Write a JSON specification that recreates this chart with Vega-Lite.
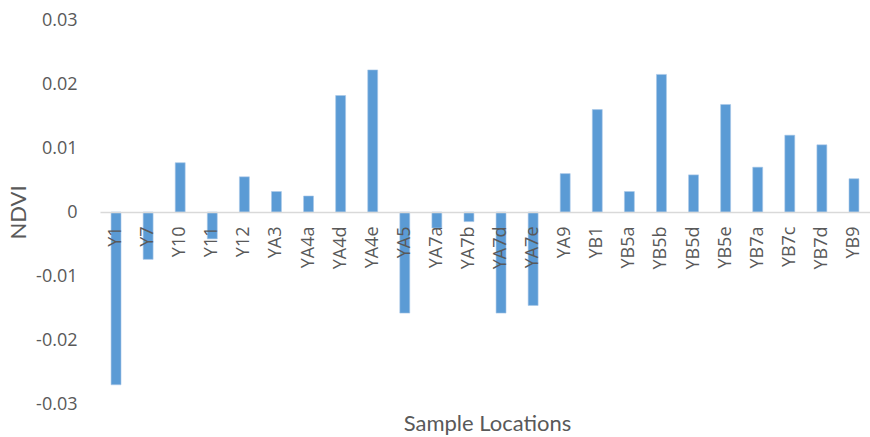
{
  "$schema": "https://vega.github.io/schema/vega-lite/v6.json",
  "width": 770,
  "height": 384,
  "autosize": "none",
  "padding": {"left": 100, "top": 20, "right": 0, "bottom": 33},
  "background": "white",
  "config": {"view": {"stroke": null}},
  "data": {"values": [
    {"loc": "Y1", "ndvi": -0.0270},
    {"loc": "Y7", "ndvi": -0.0074},
    {"loc": "Y10", "ndvi": 0.0077},
    {"loc": "Y11", "ndvi": -0.0042},
    {"loc": "Y12", "ndvi": 0.0055},
    {"loc": "YA3", "ndvi": 0.0032},
    {"loc": "YA4a", "ndvi": 0.0025},
    {"loc": "YA4d", "ndvi": 0.0182},
    {"loc": "YA4e", "ndvi": 0.0222},
    {"loc": "YA5", "ndvi": -0.0158},
    {"loc": "YA7a", "ndvi": -0.0025},
    {"loc": "YA7b", "ndvi": -0.0015},
    {"loc": "YA7d", "ndvi": -0.0158},
    {"loc": "YA7e", "ndvi": -0.0146},
    {"loc": "YA9", "ndvi": 0.0060},
    {"loc": "YB1", "ndvi": 0.0160},
    {"loc": "YB5a", "ndvi": 0.0032},
    {"loc": "YB5b", "ndvi": 0.0215},
    {"loc": "YB5d", "ndvi": 0.0058},
    {"loc": "YB5e", "ndvi": 0.0168},
    {"loc": "YB7a", "ndvi": 0.0070},
    {"loc": "YB7c", "ndvi": 0.0120},
    {"loc": "YB7d", "ndvi": 0.0105},
    {"loc": "YB9", "ndvi": 0.0052}
  ]},
  "mark": {"type": "bar", "color": "#5b9bd5", "stroke": "#a9c8e8", "strokeWidth": 0.6},
  "encoding": {
    "x": {
      "field": "loc", "type": "nominal", "sort": null,
      "scale": {"paddingInner": 0.69, "paddingOuter": 0.345},
      "axis": {
        "title": "Sample Locations",
        "offset": -192,
        "zindex": 1,
        "labelAngle": -90,
        "labelFont": "Open Sans",
        "labelFontSize": 18,
        "labelColor": "#595959",
        "labelPadding": 14,
        "ticks": false,
        "domainColor": "#d9d9d9",
        "domainWidth": 1.3,
        "titleFont": "Lato",
        "titleFontSize": 22,
        "titleFontWeight": "normal",
        "titleColor": "#595959",
        "titleY": 218,
        "titleX": 387,
        "titleBaseline": "alphabetic",
        "titleAlign": "center"
      }
    },
    "y": {
      "field": "ndvi", "type": "quantitative",
      "scale": {"domain": [-0.03, 0.03], "nice": false, "zero": false},
      "axis": {
        "title": "NDVI",
        "values": [-0.03, -0.02, -0.01, 0, 0.01, 0.02, 0.03],
        "labelExpr": "datum.value === 0 ? '0' : (datum.value < 0 ? '-' + format(-datum.value, '.2f') : format(datum.value, '.2f'))",
        "grid": false,
        "domain": false,
        "ticks": false,
        "labelPadding": 23,
        "labelFont": "Open Sans",
        "labelFontSize": 18,
        "labelColor": "#595959",
        "titleFont": "Lato",
        "titleFontSize": 22,
        "titleFontWeight": "normal",
        "titleColor": "#595959",
        "titleX": -82,
        "titleY": 192,
        "titleAngle": -90,
        "titleAlign": "center",
        "titleBaseline": "middle"
      }
    }
  }
}
